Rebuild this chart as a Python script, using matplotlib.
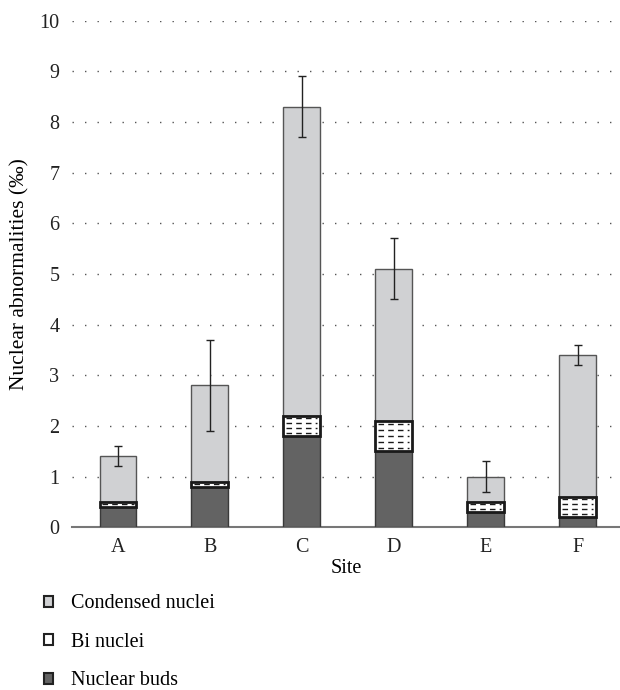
import numpy as np
import matplotlib
matplotlib.use("Agg")
import matplotlib.pyplot as plt
from matplotlib.patches import Patch

plt.rcParams['font.family'] = ['Liberation Serif', 'DejaVu Serif']

sites = ['A', 'B', 'C', 'D', 'E', 'F']
buds = [0.4, 0.8, 1.8, 1.5, 0.3, 0.2]
bi = [0.1, 0.1, 0.4, 0.6, 0.2, 0.4]
condensed = [0.9, 1.9, 6.1, 3.0, 0.5, 2.8]
err = [0.2, 0.9, 0.6, 0.6, 0.3, 0.2]

fig = plt.figure(figsize=(6.2, 6.9), dpi=100)
ax = fig.add_axes([0.116, 0.236, 0.884, 0.734])

x = np.arange(len(sites)) + 0.5
w = 0.4
buds = np.array(buds)
bi = np.array(bi)
condensed = np.array(condensed)
total = buds + bi + condensed

ax.bar(x, buds, w, color='#636363', edgecolor='#3a3a3a', linewidth=1, zorder=3)
ax.bar(x, condensed, w, bottom=buds + bi, color='#d0d1d3', edgecolor='#555555', linewidth=1, zorder=3)
ax.bar(x, bi, w, bottom=buds, color='white', edgecolor='#1a1a1a', linewidth=2, zorder=4)
# dashed fill of the bi nuclei band
for xi, b0, h in zip(x, buds, bi):
    n = max(1, int(round(h / 0.11)))
    for k in range(n):
        yy = b0 + h * (k + 0.5) / n
        ax.hlines(yy, xi - w / 2 + 0.03, xi + w / 2 - 0.03, colors='#1a1a1a',
                  linestyles=(0, (4, 3)), linewidth=1.0, zorder=5)

ax.errorbar(x, total, yerr=err, fmt='none', ecolor='#222222', elinewidth=1,
            capsize=3, capthick=1, zorder=6)

ax.set_xlim(0, 5.96)
ax.set_ylim(0, 10)
ax.set_yticks(range(0, 11))
ax.set_xticks(x)
ax.set_xticklabels(sites)
ax.tick_params(length=0, labelsize=14.5, colors='#222222')
ax.tick_params(axis='y', pad=9)
ax.tick_params(axis='x', pad=8)
ax.yaxis.grid(True, linestyle=(0, (1, 8)), color='#555555', linewidth=1)
ax.set_axisbelow(True)
for s in ['top', 'right', 'left']:
    ax.spines[s].set_visible(False)
ax.spines['bottom'].set_color('#777777')
ax.spines['bottom'].set_linewidth(1.5)
ax.set_xlabel('Site', fontsize=14.5, labelpad=1)
ax.set_ylabel('Nuclear abnormalities (‰)', fontsize=15.5, labelpad=7)

handles = [Patch(facecolor='#d0d1d3', edgecolor='#222222', linewidth=1.5),
           Patch(facecolor='white', edgecolor='#222222', linewidth=1.5),
           Patch(facecolor='#636363', edgecolor='#222222', linewidth=1.5)]
fig.legend(handles, ['Condensed nuclei', 'Bi nuclei', 'Nuclear buds'],
           loc='upper left', bbox_to_anchor=(0.042, 0.165), frameon=False,
           fontsize=14.5, handlelength=0.45, handleheight=0.45, labelspacing=0.97,
           handletextpad=0.9)

fig.savefig('out.png', dpi=100)
